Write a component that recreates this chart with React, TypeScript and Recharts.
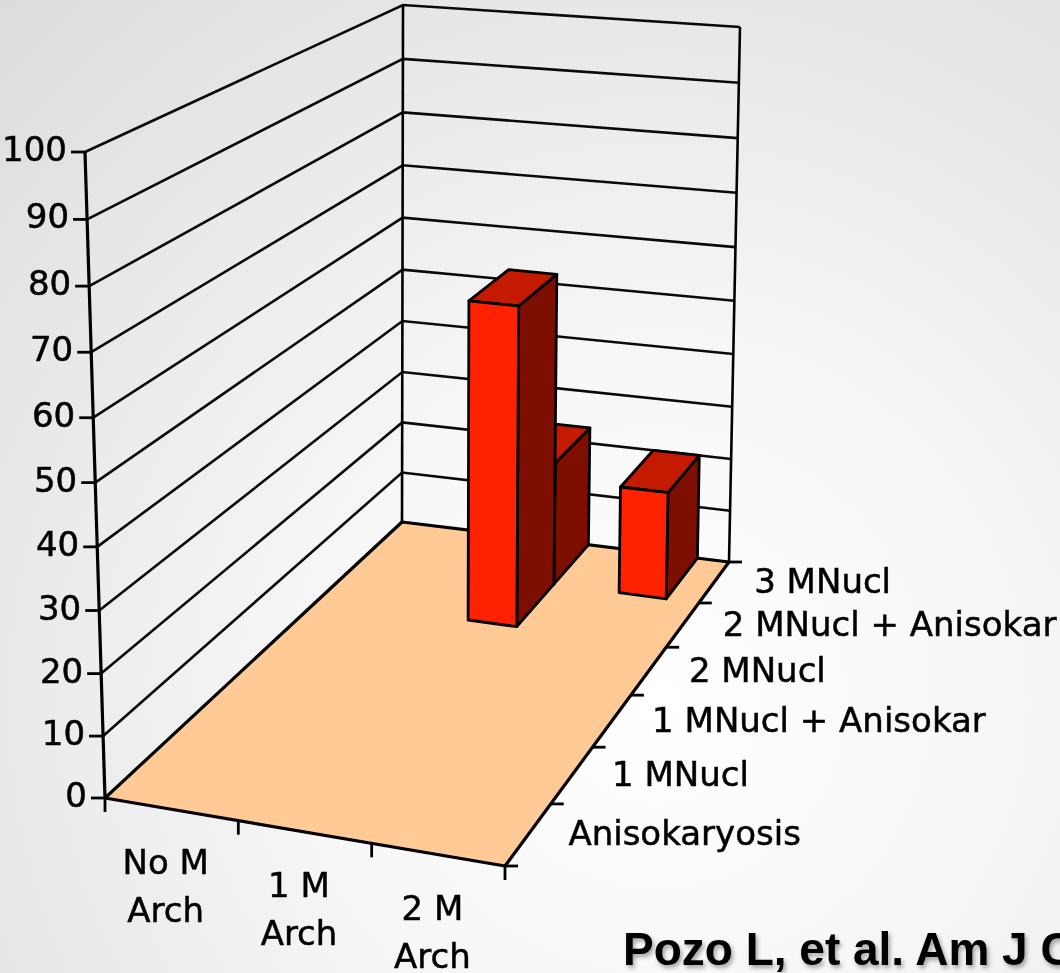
import { ScatterChart, Scatter, XAxis, YAxis, Customized } from 'recharts'

// categories along the front edge and along the depth edge
const ARCH_GROUPS = ['No M Arch', '1 M Arch', '2 M Arch']
const NUCLEAR_GROUPS = ['Anisokaryosis', '1 MNucl', '1 MNucl + Anisokar', '2 MNucl', '2 MNucl + Anisokar', '3 MNucl']

// % of cases, one array per nuclear group, indexed by ARCH_GROUPS
const anisokaryosis = [0, 0, 0]
const oneMNucl = [0, 0, 0]
const oneMNuclAnisokar = [0, 0, 0]
const twoMNucl = [0, 0, 0]
const twoMNuclAnisokar = [0, 58, 0]
const threeMNucl = [0, 23, 20]

const VALUE_TICKS = [0, 10, 20, 30, 40, 50, 60, 70, 80, 90, 100]
const ARCH_TICKS = [0.5, 1.5, 2.5]

const SERIES = [anisokaryosis, oneMNucl, oneMNuclAnisokar, twoMNucl, twoMNuclAnisokar, threeMNucl]

// flat plot area that recharts scales into; the 3d box is warped from it
const W = 1060
const H = 973
const PLOT = { left: 100, top: 150, width: 400, height: 650 }
const Y_AXIS_W = 60
const X_AXIS_H = 30

// box corners on the floor and the screen vector of a full-height edge at each
const FLOOR = { fl: [105, 798], fr: [505, 866], br: [729, 562], bl: [402, 522] }
const RISE = { fl: [-20, -646], fr: [6, -668], br: [11, -535], bl: [1, -517] }
const DEPTH_PERSP = 0.283
const RISE_PERSP = -0.046
const BAR_HALF = 0.21 // half bar width, in category units

const FONT = '"DejaVu Sans", sans-serif'
// a hairline stroke gives the labels a slightly heavier weight
const LABEL_STYLE = { fontFamily: FONT, fontSize: 34, fill: '#000', stroke: '#000', strokeWidth: 0.5 }

type Quad = { fl: number[]; fr: number[]; br: number[]; bl: number[] }

const persp = (f: number, k: number) => (f * (1 + k)) / (1 + k * f)

const blend = (q: Quad, u: number, t: number) =>
  [0, 1].map(
    (i) => (1 - u) * (1 - t) * q.fl[i] + u * (1 - t) * q.fr[i] + u * t * q.br[i] + (1 - u) * t * q.bl[i]
  )

// u: across arch groups, w: into depth, s: value fraction (all 0..1)
function project(u: number, w: number, s: number) {
  const t = persp(w, DEPTH_PERSP)
  const base = blend(FLOOR, u, t)
  const rise = blend(RISE, u, t)
  const g = persp(s, RISE_PERSP)
  return [base[0] + g * rise[0], base[1] + g * rise[1]]
}

const pts = (list: number[][]) => list.map((p) => `${p[0].toFixed(1)},${p[1].toFixed(1)}`).join(' ')

// back cells first so nearer bars paint over them
const cells: { col: number; value: number; depth: number }[] = []
for (let d = SERIES.length - 1; d >= 0; d--) {
  SERIES[d].forEach((value, i) => {
    if (value > 0) cells.push({ col: ARCH_TICKS[i], value, depth: d })
  })
}

function Frame() {
  const nd = NUCLEAR_GROUPS.length
  const na = ARCH_GROUPS.length
  const FL = project(0, 0, 0)
  const FR = project(1, 0, 0)
  const BR = project(1, 1, 0)
  const BL = project(0, 1, 0)
  const axisTop = project(0, 0, 1)
  return (
    <g>
      <defs>
        <filter id="soft" x="-5%" y="-30%" width="110%" height="160%">
          <feDropShadow dx="2" dy="3" stdDeviation="2" floodColor="#000" floodOpacity="0.35" />
        </filter>
      </defs>
      {VALUE_TICKS.filter((v) => v > 0).map((v) => (
        <polyline
          key={v}
          points={pts([project(0, 0, v / 100), project(0, 1, v / 100), project(1, 1, v / 100)])}
          fill="none"
          stroke="#0a0a0a"
          strokeWidth={2.6}
        />
      ))}
      <line x1={BL[0]} y1={BL[1]} x2={project(0, 1, 1)[0]} y2={project(0, 1, 1)[1]} stroke="#000" strokeWidth={2.6} />
      <line x1={BR[0]} y1={BR[1]} x2={project(1, 1, 1)[0]} y2={project(1, 1, 1)[1]} stroke="#000" strokeWidth={2.6} />
      <polygon points={pts([FL, FR, BR, BL])} fill="#ffca96" stroke="#000" strokeWidth={3.2} strokeLinejoin="round" />
      <line x1={FL[0]} y1={FL[1]} x2={axisTop[0]} y2={axisTop[1]} stroke="#000" strokeWidth={3.2} />
      {Array.from({ length: na + 1 }, (_, k) => {
        const [x, y] = project(k / na, 0, 0)
        return <line key={k} x1={x} y1={y} x2={x} y2={y + 14} stroke="#000" strokeWidth={2.8} />
      })}
      {Array.from({ length: nd + 1 }, (_, k) => {
        const [x, y] = project(1, k / nd, 0)
        return <line key={k} x1={x} y1={y} x2={x + 13} y2={y} stroke="#000" strokeWidth={2.8} />
      })}
      {NUCLEAR_GROUPS.map((label, i) => {
        const [x, y] = project(1, (i + 0.5) / nd, 0)
        return (
          <text key={label} x={x + 40} y={y + 11} {...LABEL_STYLE}>
            {label}
          </text>
        )
      })}
      <text
        x={623}
        y={965}
        fontFamily='"Liberation Sans", Arial, sans-serif'
        fontWeight={700}
        fontSize={46}
        fill="#000"
        filter="url(#soft)"
      >
        Pozo L, et al. Am J Clin Pathol
      </text>
    </g>
  )
}

function Bar3D(props: any) {
  const { cx, cy, payload } = props
  if (cx == null || cy == null) return <g />
  const col = (cx - PLOT.left) / PLOT.width
  const s = (PLOT.top + PLOT.height - cy) / PLOT.height
  const half = BAR_HALF / ARCH_GROUPS.length
  const u0 = col - half
  const u1 = col + half
  const w0 = payload.depth / NUCLEAR_GROUPS.length
  const w1 = (payload.depth + 1) / NUCLEAR_GROUPS.length
  const front = [project(u0, w0, 0), project(u1, w0, 0), project(u1, w0, s), project(u0, w0, s)]
  const side = [project(u1, w0, 0), project(u1, w1, 0), project(u1, w1, s), project(u1, w0, s)]
  const top = [project(u0, w0, s), project(u1, w0, s), project(u1, w1, s), project(u0, w1, s)]
  return (
    <g stroke="#000" strokeWidth={2.8} strokeLinejoin="round">
      <polygon points={pts(side)} fill="#7e0e00" />
      <polygon points={pts(top)} fill="#c41b00" />
      <polygon points={pts(front)} fill="#ff2200" />
    </g>
  )
}

function ArchTick(props: any) {
  const { x, payload } = props
  const label = ARCH_GROUPS[ARCH_TICKS.indexOf(payload.value)] ?? ''
  const cut = label.lastIndexOf(' ')
  const [fx, fy] = project((x - PLOT.left) / PLOT.width, 0, 0)
  return (
    <text x={fx - 6} y={fy + 65} textAnchor="middle" {...LABEL_STYLE}>
      <tspan x={fx - 6}>{label.slice(0, cut)}</tspan>
      <tspan x={fx - 6} dy={48}>
        {label.slice(cut + 1)}
      </tspan>
    </text>
  )
}

function ValueTick(props: any) {
  const { y, payload } = props
  const [ax, ay] = project(0, 0, (PLOT.top + PLOT.height - y) / PLOT.height)
  return (
    <g>
      <line x1={ax - 14} y1={ay} x2={ax} y2={ay} stroke="#000" strokeWidth={2.8} />
      <text x={ax - 18} y={ay + 9} textAnchor="end" {...LABEL_STYLE}>
        {payload.value}
      </text>
    </g>
  )
}

export default function App() {
  return (
    <div
      style={{
        position: 'fixed',
        left: 0,
        top: 0,
        width: W,
        height: H,
        background: 'radial-gradient(circle at 62% 72%, #ffffff 0%, #f7f7f7 35%, #dcdcdc 100%)',
      }}
    >
      <ScatterChart
        width={W}
        height={H}
        margin={{
          top: PLOT.top,
          left: PLOT.left - Y_AXIS_W,
          right: W - PLOT.left - PLOT.width,
          bottom: H - PLOT.top - PLOT.height - X_AXIS_H,
        }}
      >
        <Customized component={Frame} />
        <XAxis
          type="number"
          dataKey="col"
          domain={[0, ARCH_GROUPS.length]}
          ticks={ARCH_TICKS}
          interval={0}
          tick={(p: any) => <ArchTick {...p} />}
          axisLine={false}
          tickLine={false}
          height={X_AXIS_H}
        />
        <YAxis
          type="number"
          dataKey="value"
          domain={[0, 100]}
          ticks={VALUE_TICKS}
          interval={0}
          tick={(p: any) => <ValueTick {...p} />}
          axisLine={false}
          tickLine={false}
          width={Y_AXIS_W}
        />
        <Scatter data={cells} shape={(p: any) => <Bar3D {...p} />} isAnimationActive={false} />
      </ScatterChart>
    </div>
  )
}
